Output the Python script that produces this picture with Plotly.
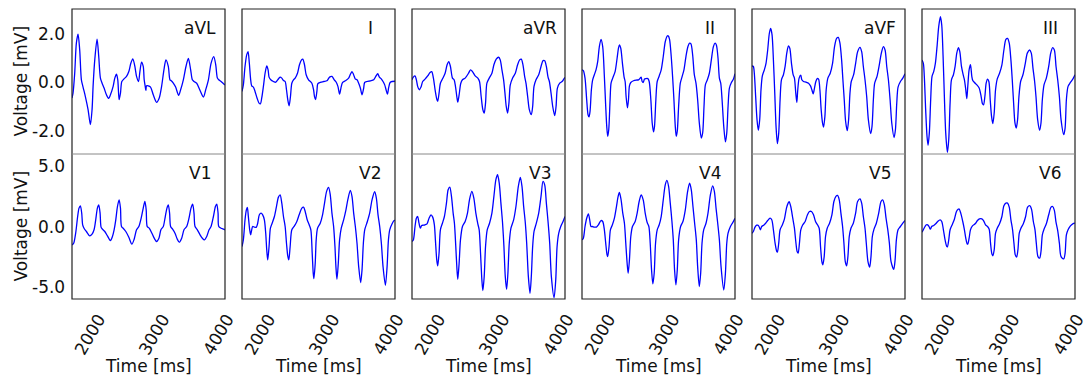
import plotly.graph_objects as go

# ---- 12-lead ECG samples: time [ms] and voltage [mV] ----
t_avl = [1620, 1636, 1662, 1688, 1714, 1740, 1766, 1792, 1828, 1870, 1906, 1932, 1948, 1974, 2010, 2036, 2062, 2088, 2119, 2156,
         2192, 2218, 2260, 2286, 2312, 2332, 2353, 2374, 2395, 2426, 2468, 2504, 2535, 2566, 2598, 2624, 2655, 2676, 2702, 2728,
         2743, 2759, 2769, 2780, 2806, 2842, 2884, 2936, 2977, 3014, 3050, 3081, 3118, 3144, 3164, 3196, 3232, 3279, 3310, 3352,
         3393, 3430, 3466, 3492, 3518, 3560, 3612, 3664, 3700, 3742, 3783, 3825, 3856, 3882, 3903, 3939, 3976, 4000]
v_avl = [-0.64, -0.44, 0.38, 1.62, 1.99, 1.34, 0.11, -0.19, -0.58, -1.12, -1.74, -1.12, -0.16, 0.93, 1.79, 1.07, 0.18, -0.03, -0.23, -0.51,
         -0.66, -0.51, -0.16, 0.18, 0.34, 0.11, -0.71, -0.44, 0.04, 0.14, 0.25, 0.45, 0.79, 0.97, 0.66, 0.25, 0.04, 0.45, 0.84, 0.66,
         0.11, -0.16, -0.33, -0.14, -0.14, -0.19, -0.51, -0.82, -0.64, -0.16, 0.52, 0.93, 0.66, 0.11, 0.07, -0.03, -0.19, -0.53, -0.30, 0.11,
         0.66, 0.99, 0.52, 0.11, 0.04, -0.03, -0.33, -0.60, -0.30, 0.11, 0.79, 1.07, 0.73, 0.18, 0.11, 0.04, -0.05, -0.10]

t_i = [1620, 1641, 1667, 1693, 1714, 1734, 1755, 1771, 1797, 1823, 1854, 1885, 1906, 1927, 1953, 1979, 2005, 2026, 2041, 2067,
       2109, 2145, 2176, 2213, 2239, 2265, 2291, 2312, 2332, 2353, 2374, 2395, 2421, 2447, 2483, 2514, 2546, 2566, 2592, 2618,
       2655, 2707, 2733, 2748, 2764, 2785, 2800, 2837, 2889, 2941, 2982, 3019, 3055, 3086, 3112, 3138, 3159, 3185, 3227, 3279,
       3310, 3331, 3356, 3383, 3409, 3435, 3461, 3487, 3513, 3528, 3565, 3617, 3669, 3705, 3731, 3757, 3783, 3814, 3840, 3861,
       3882, 3903, 3924, 3955, 4000]
v_i = [-0.37, -0.10, 0.66, 1.14, 1.27, 0.79, 0.11, -0.14, -0.19, -0.37, -0.64, -0.85, -0.88, -0.64, -0.16, 0.38, 0.68, 0.52, 0.22, 0.11,
       0.04, 0.01, 0.11, 0.22, 0.18, 0.08, 0.04, -0.30, -0.71, -0.96, -0.58, -0.03, 0.11, 0.18, 0.38, 0.73, 0.93, 0.96, 0.73, 0.32,
       0.11, -0.03, -0.30, -0.58, -0.71, -0.37, -0.05, 0.00, 0.04, 0.07, 0.22, 0.25, 0.11, 0.01, -0.16, -0.48, -0.23, 0.00, 0.07, 0.18,
       0.36, 0.45, 0.32, 0.14, 0.11, -0.03, -0.23, -0.51, -0.23, 0.00, 0.04, 0.07, 0.11, 0.27, 0.36, 0.22, 0.16, 0.04, -0.10, -0.30,
       -0.48, -0.19, 0.00, 0.04, 0.05]

t_avr = [1620, 1641, 1667, 1688, 1708, 1734, 1760, 1786, 1823, 1864, 1901, 1927, 1953, 1979, 2005, 2020, 2041, 2062, 2093, 2135,
         2166, 2192, 2218, 2249, 2275, 2296, 2317, 2332, 2353, 2379, 2405, 2447, 2499, 2530, 2561, 2603, 2644, 2670, 2696, 2722,
         2743, 2764, 2785, 2821, 2863, 2894, 2930, 2967, 2993, 3019, 3045, 3066, 3086, 3107, 3128, 3149, 3185, 3227, 3263, 3294,
         3320, 3346, 3372, 3393, 3419, 3445, 3476, 3497, 3518, 3549, 3591, 3627, 3658, 3684, 3710, 3736, 3757, 3783, 3809, 3840,
         3861, 3882, 3918, 3955, 3981, 4000]
v_avr = [0.11, 0.22, 0.27, 0.11, -0.16, -0.30, -0.19, 0.04, 0.14, 0.27, 0.41, 0.45, 0.18, -0.30, -0.68, -0.78, -0.44, -0.03, 0.14, 0.38,
         0.73, 0.86, 0.66, 0.18, 0.11, -0.16, -0.58, -0.81, -0.51, -0.03, 0.11, 0.18, 0.38, 0.52, 0.45, 0.27, 0.18, 0.04, -0.58, -1.12,
         -1.26, -0.85, -0.03, 0.18, 0.38, 0.73, 0.96, 1.04, 0.93, 0.52, 0.11, -0.44, -0.99, -1.26, -0.85, -0.10, 0.18, 0.38, 0.73, 0.93,
         0.96, 0.73, 0.25, -0.03, -0.58, -1.12, -1.33, -0.99, -0.16, 0.11, 0.32, 0.66, 0.90, 0.90, 0.66, 0.22, 0.04, -0.44, -0.99, -1.37,
         -0.99, -0.23, -0.03, 0.04, 0.14, 0.21]

t_ii = [1620, 1641, 1667, 1693, 1714, 1729, 1745, 1766, 1786, 1812, 1838, 1864, 1890, 1916, 1942, 1968, 1989, 2005, 2020, 2036,
        2057, 2072, 2098, 2135, 2166, 2187, 2202, 2223, 2249, 2275, 2291, 2306, 2327, 2343, 2358, 2379, 2421, 2462, 2499, 2525,
        2540, 2556, 2572, 2592, 2613, 2644, 2665, 2691, 2712, 2733, 2748, 2769, 2790, 2821, 2852, 2884, 2915, 2946, 2962, 2982,
        3008, 3029, 3050, 3071, 3086, 3102, 3123, 3149, 3175, 3206, 3237, 3268, 3294, 3315, 3341, 3367, 3393, 3419, 3445, 3476,
        3497, 3518, 3539, 3570, 3601, 3632, 3664, 3690, 3710, 3736, 3757, 3778, 3799, 3825, 3851, 3872, 3892, 3913, 3944, 3976,
        4000]
v_ii = [0.52, 0.49, 0.18, -0.71, -1.33, -1.42, -1.19, -0.30, 0.11, 0.32, 0.52, 0.86, 1.48, 1.78, 1.48, 0.25, -0.99, -1.81, -2.22, -1.95,
        -0.71, -0.03, 0.18, 0.45, 1.00, 1.41, 1.55, 1.41, 0.79, 0.22, 0.04, -0.58, -1.05, -0.71, -0.14, 0.00, 0.07, 0.10, 0.11, 0.18,
        0.22, 0.04, 0.00, 0.14, 0.16, 0.16, 0.04, -0.71, -1.67, -2.04, -1.81, -0.71, 0.04, 0.27, 0.52, 1.07, 1.68, 1.92, 1.92, 1.78,
        1.07, 0.25, -0.71, -1.81, -2.22, -2.01, -0.99, -0.03, 0.22, 0.52, 1.07, 1.48, 1.62, 1.59, 1.14, 0.32, -0.03, -0.71, -1.67, -2.29,
        -2.08, -0.99, -0.10, 0.11, 0.38, 0.93, 1.48, 1.62, 1.55, 1.00, 0.18, -0.03, -0.71, -1.81, -2.45, -2.08, -0.99, -0.23, 0.00, 0.14,
        0.36]

t_avf = [1620, 1641, 1656, 1677, 1698, 1719, 1740, 1760, 1781, 1812, 1838, 1864, 1890, 1911, 1932, 1953, 1974, 1994, 2015, 2036,
         2057, 2078, 2109, 2135, 2161, 2187, 2208, 2234, 2260, 2280, 2301, 2317, 2332, 2353, 2379, 2395, 2421, 2462, 2499, 2530,
         2551, 2572, 2592, 2613, 2634, 2655, 2676, 2696, 2717, 2733, 2754, 2774, 2800, 2837, 2873, 2904, 2936, 2962, 2988, 3014,
         3034, 3055, 3076, 3102, 3123, 3144, 3164, 3201, 3232, 3263, 3300, 3326, 3352, 3378, 3404, 3430, 3466, 3487, 3508, 3528,
         3565, 3596, 3632, 3664, 3690, 3716, 3742, 3768, 3794, 3830, 3851, 3872, 3892, 3929, 3966, 4000]
v_avf = [0.68, 0.66, 0.38, -0.58, -1.53, -1.97, -1.53, -0.30, 0.27, 0.52, 0.79, 1.34, 2.03, 2.23, 1.96, 0.93, -0.44, -1.81, -2.52, -2.08,
         -0.71, 0.11, 0.32, 0.66, 1.21, 1.51, 1.41, 0.79, 0.32, 0.18, -0.44, -0.82, -0.30, 0.18, 0.30, 0.11, 0.04, 0.01, -0.03, -0.14,
         -0.30, -0.47, -0.23, 0.04, 0.16, 0.14, -0.30, -1.12, -1.67, -1.84, -1.40, -0.30, 0.18, 0.38, 0.79, 1.48, 1.82, 1.86, 1.62, 0.93,
         0.11, -0.71, -1.60, -1.99, -1.53, -0.44, 0.04, 0.32, 0.79, 1.27, 1.45, 1.27, 0.66, 0.11, -0.58, -1.53, -2.11, -1.81, -0.71, -0.03,
         0.25, 0.66, 1.21, 1.48, 1.34, 0.66, 0.11, -0.71, -1.67, -2.27, -1.95, -0.85, -0.19, 0.04, 0.18, 0.36]

t_iii = [1620, 1641, 1656, 1677, 1698, 1714, 1734, 1755, 1776, 1802, 1828, 1854, 1880, 1906, 1927, 1948, 1968, 1989, 2015, 2036,
         2057, 2078, 2109, 2135, 2161, 2187, 2208, 2234, 2260, 2280, 2301, 2317, 2332, 2353, 2374, 2395, 2410, 2436, 2473, 2509,
         2540, 2561, 2577, 2598, 2618, 2639, 2660, 2681, 2702, 2722, 2743, 2764, 2790, 2826, 2863, 2894, 2925, 2951, 2977, 3003,
         3024, 3045, 3066, 3086, 3107, 3128, 3154, 3190, 3227, 3258, 3294, 3320, 3346, 3372, 3393, 3419, 3450, 3471, 3492, 3518,
         3554, 3591, 3622, 3653, 3679, 3705, 3731, 3757, 3783, 3825, 3846, 3866, 3892, 3929, 3966, 4000]
v_iii = [0.93, 0.79, 0.25, -1.12, -2.22, -2.59, -2.08, -0.71, 0.25, 0.45, 0.79, 1.48, 2.30, 2.71, 2.37, 1.07, -0.58, -2.08, -2.88, -2.36,
         -0.85, 0.11, 0.32, 0.66, 1.21, 1.44, 1.27, 0.66, 0.32, 0.11, -0.30, -0.67, -0.16, 0.52, 0.73, 0.25, 0.08, 0.00, -0.10, -0.23,
         -0.58, -0.88, -0.92, -0.58, -0.03, 0.14, 0.04, -0.71, -1.40, -1.70, -1.26, -0.30, 0.14, 0.38, 0.73, 1.34, 1.78, 1.82, 1.62, 0.93,
         0.11, -0.85, -1.67, -1.88, -1.53, -0.58, 0.04, 0.32, 0.79, 1.21, 1.34, 1.21, 0.59, 0.04, -0.58, -1.53, -1.97, -1.67, -0.71, -0.10,
         0.18, 0.66, 1.21, 1.44, 1.34, 0.66, 0.11, -0.58, -1.53, -2.15, -1.88, -0.71, -0.16, 0.00, 0.14, 0.32]

t_v1 = [1620, 1646, 1677, 1708, 1729, 1750, 1771, 1786, 1807, 1844, 1896, 1932, 1963, 1989, 2015, 2036, 2057, 2072, 2093, 2130,
        2171, 2218, 2249, 2275, 2301, 2327, 2353, 2374, 2390, 2416, 2457, 2504, 2551, 2587, 2624, 2660, 2696, 2728, 2754, 2774,
        2790, 2821, 2863, 2899, 2936, 2972, 3003, 3040, 3071, 3097, 3118, 3138, 3154, 3185, 3222, 3258, 3289, 3326, 3362, 3404,
        3440, 3471, 3497, 3518, 3534, 3570, 3612, 3648, 3679, 3716, 3752, 3783, 3820, 3851, 3872, 3892, 3903, 3939, 3976, 4000]
v_v1 = [-1.51, -1.37, -0.55, 0.82, 1.51, 1.70, 1.10, 0.14, -0.14, -0.41, -0.77, -0.63, -0.27, 0.55, 1.51, 1.78, 1.10, -0.05, -0.22, -0.41,
        -0.77, -1.15, -0.82, -0.27, 0.55, 1.64, 2.19, 1.51, 0.00, -0.14, -0.41, -0.88, -1.45, -1.04, -0.27, 0.00, 0.68, 1.51, 2.05, 1.37,
        0.00, -0.14, -0.55, -0.96, -1.23, -0.96, -0.27, 0.00, 0.82, 1.51, 1.78, 1.10, 0.00, -0.22, -0.55, -1.04, -1.29, -0.96, -0.27, 0.00,
        0.68, 1.51, 1.84, 1.10, 0.00, -0.27, -0.68, -0.96, -1.10, -0.82, -0.27, 0.00, 0.82, 1.64, 1.84, 1.10, 0.00, -0.14, -0.22, -0.27]

t_v2 = [1620, 1641, 1667, 1688, 1703, 1719, 1740, 1755, 1771, 1786, 1812, 1844, 1864, 1890, 1916, 1942, 1968, 1989, 2005, 2020,
        2041, 2062, 2093, 2124, 2156, 2187, 2213, 2239, 2265, 2291, 2312, 2332, 2348, 2369, 2395, 2436, 2473, 2509, 2551, 2577,
        2603, 2634, 2665, 2691, 2712, 2728, 2738, 2759, 2774, 2795, 2837, 2873, 2904, 2936, 2967, 2993, 3019, 3045, 3066, 3081,
        3097, 3118, 3138, 3164, 3201, 3237, 3268, 3305, 3331, 3357, 3383, 3409, 3435, 3466, 3487, 3508, 3529, 3570, 3606, 3643,
        3684, 3710, 3736, 3762, 3788, 3814, 3851, 3877, 3898, 3918, 3955, 3986, 4000]
v_v2 = [-1.64, -1.10, 0.55, 1.37, 1.56, 0.82, -0.27, -0.68, -0.27, 0.00, -0.05, -0.05, 0.27, 0.96, 1.10, 0.96, 0.55, -0.55, -1.92, -2.74,
        -1.64, -0.14, 0.33, 0.82, 1.64, 2.41, 2.60, 1.92, 0.82, 0.00, -1.37, -2.41, -2.74, -1.64, -0.27, 0.05, 0.41, 0.96, 1.51, 1.59,
        1.23, 0.55, 0.14, -0.27, -2.19, -3.84, -4.27, -3.01, -1.10, -0.14, 0.27, 0.96, 1.92, 2.88, 3.21, 2.60, 1.10, 0.00, -1.64, -3.29,
        -4.33, -3.01, -1.10, -0.14, 0.55, 1.37, 2.25, 2.96, 2.47, 1.10, 0.00, -1.37, -3.29, -4.60, -3.56, -1.37, -0.27, 0.41, 1.10, 2.19,
        2.85, 2.33, 0.96, 0.00, -1.37, -3.29, -4.82, -3.29, -1.10, -0.27, 0.22, 0.49, 0.49]

t_v3 = [1620, 1641, 1667, 1688, 1708, 1729, 1750, 1771, 1797, 1823, 1854, 1885, 1916, 1942, 1968, 1984, 2005, 2020, 2041, 2062,
        2093, 2124, 2156, 2182, 2208, 2234, 2260, 2280, 2301, 2317, 2332, 2353, 2374, 2405, 2447, 2483, 2514, 2551, 2582, 2613,
        2644, 2665, 2686, 2707, 2722, 2743, 2764, 2790, 2826, 2863, 2894, 2925, 2951, 2977, 3003, 3029, 3050, 3071, 3092, 3112,
        3133, 3159, 3201, 3237, 3274, 3305, 3331, 3357, 3383, 3404, 3430, 3456, 3476, 3497, 3518, 3554, 3591, 3627, 3658, 3684,
        3710, 3736, 3762, 3788, 3830, 3856, 3877, 3903, 3934, 3970, 4000]
v_v3 = [-1.23, -1.10, 0.00, 0.68, 0.82, 0.27, -0.14, 0.08, 0.11, 0.14, 0.22, 0.68, 0.96, 0.77, 0.14, -1.10, -2.74, -3.23, -2.19, -0.27,
        0.27, 0.82, 1.92, 3.01, 3.23, 2.47, 1.10, 0.27, -1.64, -3.29, -4.33, -3.01, -1.10, 0.00, 0.41, 1.10, 2.19, 2.88, 2.33, 1.10,
        0.22, -0.27, -2.19, -4.38, -5.26, -4.11, -1.64, -0.27, 0.27, 1.10, 2.47, 3.84, 4.25, 3.56, 1.92, 0.27, -1.64, -4.11, -5.15, -3.84,
        -1.37, -0.14, 0.55, 1.64, 3.29, 4.03, 3.29, 1.64, 0.27, -1.37, -4.11, -5.48, -4.11, -1.64, -0.41, 0.27, 1.10, 2.47, 3.70, 3.42,
        1.92, 0.41, -1.37, -4.11, -5.84, -4.38, -1.64, -0.55, 0.00, 0.41, 0.82]

t_v4 = [1620, 1641, 1667, 1693, 1719, 1740, 1760, 1781, 1812, 1844, 1875, 1916, 1942, 1968, 1989, 2010, 2020, 2041, 2062, 2093,
        2124, 2156, 2182, 2202, 2228, 2254, 2280, 2301, 2322, 2338, 2358, 2379, 2405, 2447, 2478, 2509, 2540, 2572, 2603, 2634,
        2660, 2681, 2702, 2722, 2743, 2764, 2790, 2821, 2852, 2884, 2915, 2941, 2967, 2993, 3019, 3040, 3060, 3081, 3102, 3123,
        3154, 3190, 3227, 3263, 3294, 3320, 3346, 3372, 3398, 3419, 3445, 3466, 3487, 3513, 3549, 3580, 3617, 3653, 3679, 3705,
        3731, 3757, 3783, 3825, 3851, 3872, 3892, 3929, 3966, 4000]
v_v4 = [-1.10, -0.96, 0.00, 0.68, 1.04, 0.55, 0.00, 0.00, -0.05, -0.05, 0.14, 0.49, 0.41, -0.27, -1.37, -2.33, -2.47, -1.64, -0.27, 0.14,
        0.68, 1.64, 2.47, 2.79, 2.19, 1.10, 0.27, -1.37, -3.01, -3.84, -2.74, -0.82, 0.00, 0.41, 1.10, 2.05, 2.60, 2.19, 1.10, 0.33,
        0.00, -1.37, -3.56, -4.71, -3.84, -1.37, -0.27, 0.14, 0.82, 2.19, 3.42, 3.78, 3.29, 1.92, 0.41, -1.10, -3.56, -4.79, -3.56, -1.10,
        0.00, 0.41, 1.37, 2.88, 3.56, 3.01, 1.64, 0.27, -1.10, -3.29, -4.93, -3.84, -1.37, -0.27, 0.27, 1.10, 2.60, 3.34, 2.88, 1.51,
        0.27, -1.10, -3.29, -5.21, -3.84, -1.37, -0.55, 0.00, 0.33, 0.68]

t_v5 = [1620, 1641, 1667, 1693, 1708, 1729, 1750, 1771, 1802, 1833, 1864, 1901, 1927, 1953, 1979, 2005, 2015, 2036, 2057, 2093,
        2124, 2156, 2182, 2197, 2223, 2254, 2280, 2301, 2322, 2338, 2358, 2379, 2410, 2447, 2483, 2514, 2546, 2577, 2608, 2639,
        2665, 2686, 2707, 2722, 2743, 2764, 2790, 2826, 2863, 2894, 2925, 2951, 2977, 3003, 3029, 3050, 3071, 3092, 3112, 3133,
        3159, 3196, 3232, 3263, 3300, 3326, 3352, 3378, 3398, 3424, 3450, 3471, 3492, 3518, 3554, 3591, 3627, 3653, 3679, 3705,
        3731, 3757, 3783, 3825, 3846, 3866, 3892, 3929, 3966, 4000]
v_v5 = [-0.55, -0.41, -0.05, 0.11, 0.11, 0.00, -0.27, 0.00, 0.11, 0.27, 0.49, 0.68, 0.55, -0.27, -1.37, -2.05, -2.11, -1.37, -0.27, 0.14,
        0.60, 1.51, 1.92, 2.03, 1.64, 0.68, -0.14, -1.23, -2.05, -2.19, -1.37, -0.27, 0.14, 0.41, 0.96, 1.23, 1.23, 0.96, 0.41, 0.14,
        -0.14, -1.64, -2.88, -3.15, -2.47, -0.82, -0.14, 0.27, 0.96, 2.05, 2.47, 2.55, 2.19, 1.10, 0.00, -1.37, -2.88, -3.23, -2.47, -0.82,
        -0.14, 0.27, 1.10, 2.05, 2.27, 1.92, 0.82, -0.14, -1.37, -2.88, -3.34, -2.47, -0.82, -0.22, 0.27, 1.10, 2.05, 2.19, 1.78, 0.68,
        -0.22, -1.37, -2.88, -3.51, -2.74, -1.10, -0.27, 0.00, 0.27, 0.49]

t_v6 = [1620, 1641, 1667, 1688, 1708, 1729, 1750, 1771, 1802, 1833, 1864, 1901, 1927, 1953, 1979, 2005, 2015, 2036, 2057, 2093,
        2124, 2156, 2182, 2197, 2223, 2254, 2280, 2301, 2322, 2332, 2353, 2374, 2405, 2447, 2483, 2514, 2551, 2577, 2608, 2639,
        2665, 2686, 2707, 2722, 2743, 2764, 2790, 2826, 2863, 2894, 2925, 2951, 2977, 3003, 3029, 3050, 3071, 3092, 3112, 3133,
        3159, 3196, 3232, 3263, 3300, 3326, 3352, 3378, 3398, 3424, 3450, 3471, 3492, 3518, 3554, 3591, 3627, 3653, 3679, 3705,
        3731, 3757, 3783, 3825, 3846, 3866, 3892, 3929, 3966, 4000]
v_v6 = [-0.47, -0.27, 0.00, 0.14, 0.14, 0.00, -0.22, 0.00, 0.08, 0.22, 0.41, 0.55, 0.41, -0.27, -1.10, -1.64, -1.67, -1.10, -0.27, 0.19,
        0.60, 1.23, 1.42, 1.45, 1.10, 0.41, -0.27, -0.96, -1.42, -1.45, -0.96, -0.27, 0.05, 0.22, 0.49, 0.63, 0.63, 0.49, 0.14, 0.00,
        -0.22, -1.37, -2.25, -2.41, -1.92, -0.55, -0.14, 0.22, 0.82, 1.70, 1.92, 1.92, 1.59, 0.55, -0.27, -1.37, -2.33, -2.52, -1.92, -0.55,
        -0.14, 0.22, 0.82, 1.59, 1.70, 1.37, 0.41, -0.27, -1.37, -2.47, -2.60, -2.05, -0.68, -0.22, 0.22, 0.96, 1.59, 1.64, 1.32, 0.33,
        -0.33, -1.37, -2.47, -2.66, -2.19, -0.68, -0.27, 0.05, 0.22, 0.27]

top_leads = [("aVL", t_avl, v_avl), ("I", t_i, v_i), ("aVR", t_avr, v_avr),
             ("II", t_ii, v_ii), ("aVF", t_avf, v_avf), ("III", t_iii, v_iii)]
bottom_leads = [("V1", t_v1, v_v1), ("V2", t_v2, v_v2), ("V3", t_v3, v_v3),
                ("V4", t_v4, v_v4), ("V5", t_v5, v_v5), ("V6", t_v6, v_v6)]

x_range = [1620, 4000]
x_ticks = [2000, 3000, 4000]
top_range, top_ticks, top_labels = [-2.95, 3.03], [-2, 0, 2], ["-2.0", "0.0", "2.0"]
bottom_range, bottom_ticks, bottom_labels = [-5.95, 5.95], [-5, 0, 5], ["-5.0", "0.0", "5.0"]

# ---- layout geometry (pixels) ----
W, H = 1088, 380
ML, MR, MT, MB = 72, 13, 9, 81
PW, PH = W - ML - MR, H - MT - MB
COL_STEP, COL_W = 170, 153

FONT = "DejaVu Sans"
INK = "#111111"
FS = 17

fig = go.Figure()
layout = dict(
    width=W, height=H,
    margin=dict(l=ML, r=MR, t=MT, b=MB, pad=0, autoexpand=False),
    paper_bgcolor="white", plot_bgcolor="white",
    showlegend=False,
    font=dict(family=FONT, size=FS, color=INK),
)
shapes, annotations = [], []

rows = [(top_leads, top_range, top_ticks, top_labels),
        (bottom_leads, bottom_range, bottom_ticks, bottom_labels)]
for row, (leads, yr, yt, ylab) in enumerate(rows):
    for col, (name, t, v) in enumerate(leads):
        idx = row * 6 + col + 1
        sfx = "" if idx == 1 else str(idx)
        xa, ya = f"x{sfx}", f"y{sfx}"
        fig.add_trace(go.Scatter(
            x=t, y=v, xaxis=xa, yaxis=ya, mode="lines",
            line=dict(color="#0000ff", width=1.3, shape="spline", smoothing=0.8),
            hoverinfo="skip"))
        x0 = col * COL_STEP / PW
        x1 = (col * COL_STEP + COL_W) / PW
        ydom = [0.5, 1.0] if row == 0 else [0.0, 0.5]
        layout[f"xaxis{sfx}"] = dict(
            domain=[x0, x1], range=x_range, anchor=ya, automargin=False,
            showgrid=False, zeroline=False, showline=False, ticks="",
            tickvals=x_ticks, showticklabels=(row == 1), tickangle=-60,
            ticklabelshift=2, ticklabelstandoff=6, ticklabeloverflow="allow",
            tickfont=dict(size=FS),
        )
        layout[f"yaxis{sfx}"] = dict(
            domain=ydom, range=yr, anchor=xa, automargin=False,
            showgrid=False, zeroline=False, showline=False, ticks="",
            tickvals=yt, showticklabels=False,
        )
        annotations.append(dict(
            text=name, xref=f"{xa} domain", yref=f"{ya} domain",
            x=0.837, y=0.87, xanchor="center", yanchor="middle",
            showarrow=False, font=dict(size=FS, color=INK)))
        if col == 0:
            # voltage tick labels beside the first column of each row
            for tv, tl in zip(yt, ylab):
                annotations.append(dict(
                    text=tl, xref="paper", yref=ya, x=-5 / PW, y=tv,
                    xanchor="right", yanchor="middle", showarrow=False,
                    font=dict(size=FS, color=INK)))
        if row == 0:
            # outer frame around the column and the divider between rows
            shapes.append(dict(type="rect", xref=f"{xa} domain", yref="paper",
                               x0=0, x1=1, y0=0, y1=1,
                               line=dict(color="#222222", width=1.2), layer="above"))
            shapes.append(dict(type="line", xref=f"{xa} domain", yref="paper",
                               x0=0, x1=1, y0=0.5, y1=0.5,
                               line=dict(color="#888888", width=1), layer="above"))
            # x-axis title under each column
            annotations.append(dict(
                text="Time [ms]", xref="paper", yref="paper",
                x=(col * COL_STEP + COL_W / 2) / PW, y=-67 / PH,
                xanchor="center", yanchor="middle", showarrow=False,
                font=dict(size=FS, color=INK)))
    # y-axis title for the row
    annotations.append(dict(
        text="Voltage [mV]", xref="paper", yref="paper",
        x=-52 / PW, y=0.75 if row == 0 else 0.25, textangle=-90,
        xanchor="center", yanchor="middle", showarrow=False,
        font=dict(size=FS, color=INK)))

layout["shapes"] = shapes
layout["annotations"] = annotations
fig.update_layout(**layout)
fig.write_html("out.html")
